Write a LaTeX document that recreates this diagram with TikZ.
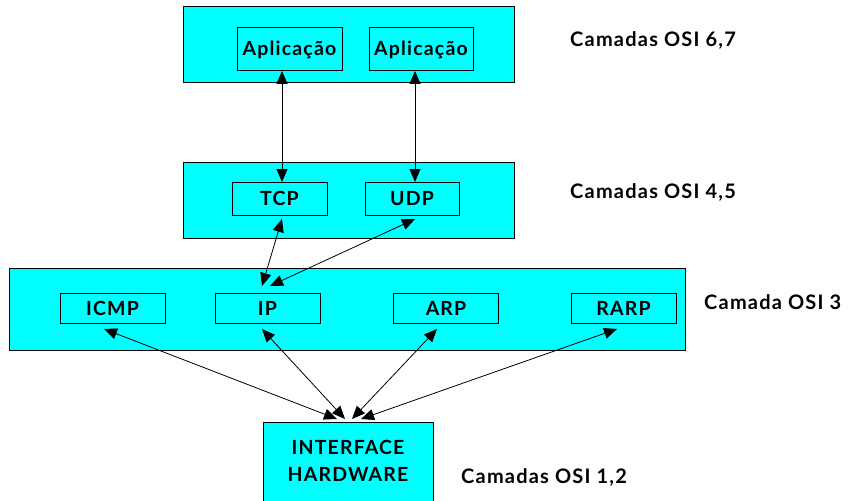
\documentclass[tikz,border=0pt]{standalone}
\usepackage{fontspec}
\setmainfont{Lato}[LetterSpace=6]
\usetikzlibrary{arrows.meta}
\definecolor{boxcyan}{HTML}{00FFFF}
\tikzset{
  layer/.style={draw=black, fill=boxcyan, line width=1pt, inner sep=0pt},
  proto/.style={draw=black, fill=boxcyan, line width=1pt, inner sep=0pt, font=\fontsize{19.5}{21}\selectfont\bfseries},
  lbl/.style={anchor=west, inner sep=0pt, font=\fontsize{20}{22}\selectfont\bfseries},
  link/.style={line width=0.8pt, {Triangle[length=13pt,width=11pt]}-{Triangle[length=13pt,width=11pt]}}
}
\begin{document}
\begin{tikzpicture}[x=1pt,y=-1pt]
\useasboundingbox (0,0) rectangle (858,500);
\clip (0,0) rectangle (858,500);
% layers
\node[layer, minimum width=331pt, minimum height=76pt] (top) at (348.5,45) {};
\node[layer, minimum width=331pt, minimum height=76pt] (mid) at (348.5,200) {};
\node[layer, minimum width=676pt, minimum height=82pt] (l3) at (347,309) {};
\node[layer, minimum width=170pt, minimum height=82pt] (hw) at (348,463) {};
\node[inner sep=0pt, align=center, font=\fontsize{19.5}{27}\selectfont\bfseries] (hwt) at (348,461) {INTERFACE\\HARDWARE};
% protocol boxes
\node[proto, minimum width=105pt, minimum height=43pt] (app1) at (289.5,49.5) {Aplicação};
\node[proto, minimum width=104pt, minimum height=43pt] (app2) at (421,49.5) {Aplicação};
\node[proto, minimum width=95pt, minimum height=33pt] (tcp) at (279.5,198.5) {TCP};
\node[proto, minimum width=94pt, minimum height=33pt] (udp) at (412,198.5) {UDP};
\node[proto, minimum width=105pt, minimum height=30pt] (icmp) at (112.5,308.5) {ICMP};
\node[proto, minimum width=105pt, minimum height=30pt] (ip) at (267.5,308.5) {IP};
\node[proto, minimum width=105pt, minimum height=30pt] (arp) at (446,308.5) {ARP};
\node[proto, minimum width=105pt, minimum height=30pt] (rarp) at (623.5,308.5) {RARP};
% labels
\node[lbl] (lab67) at (570,40) {Camadas OSI 6,7};
\node[lbl] (lab45) at (570,192) {Camadas OSI 4,5};
\node[lbl] (lab3) at (704,302) {Camada OSI 3};
\node[lbl] (lab12) at (461,477) {Camadas OSI 1,2};
% connector end points
\coordinate (a1) at (282,71);
\coordinate (t1) at (282,182);
\coordinate (a2) at (415,71);
\coordinate (u1) at (415,182);
\coordinate (t2) at (282,219);
\coordinate (u2) at (415,219);
\coordinate (ipA) at (262,286);
\coordinate (ipB) at (270,286);
\coordinate (icmpD) at (104,329);
\coordinate (ipD) at (262,329);
\coordinate (arpD) at (437,329);
\coordinate (rarpD) at (617,329);
\coordinate (h1) at (337,419);
\coordinate (h2) at (345,419);
\coordinate (h3) at (352,419);
\coordinate (h4) at (361,419);
% connectors
\draw[link] (a1) -- (t1);
\draw[link] (a2) -- (u1);
\draw[link] (t2) -- (ipA);
\draw[link] (u2) -- (ipB);
\draw[link] (icmpD) -- (h1);
\draw[link] (ipD) -- (h2);
\draw[link] (arpD) -- (h3);
\draw[link] (rarpD) -- (h4);
\end{tikzpicture}
\end{document}
